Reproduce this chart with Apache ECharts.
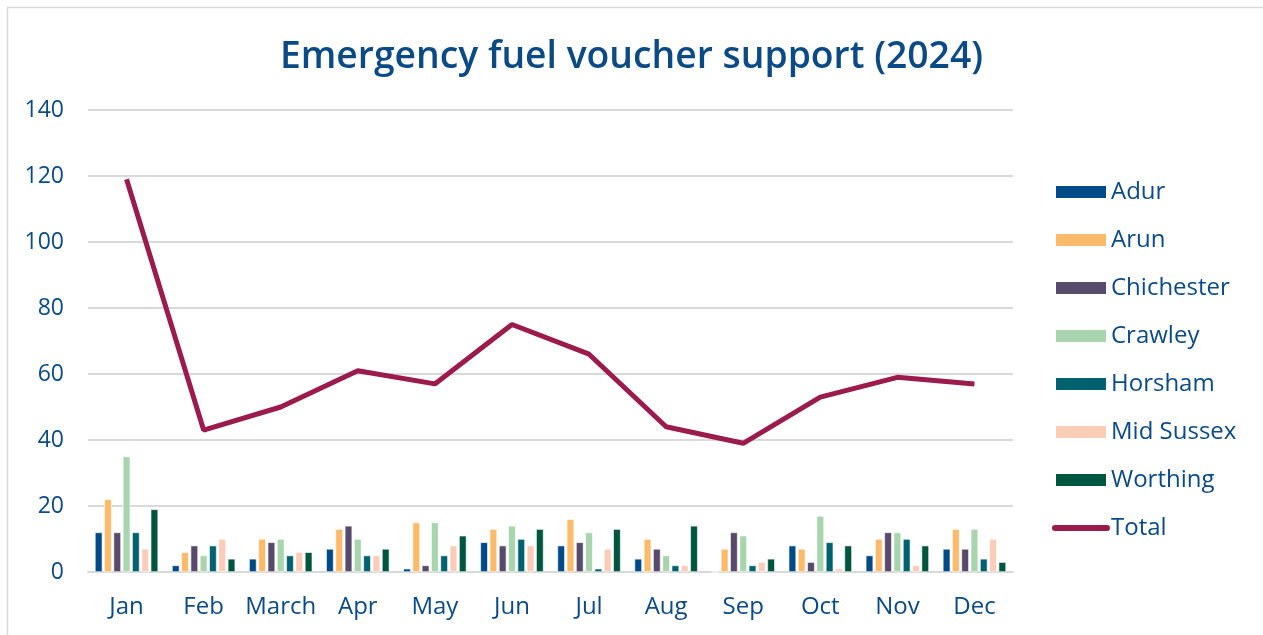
<!DOCTYPE html>
<html>
<head>
<meta charset="utf-8">
<script src="https://cdn.jsdelivr.net/npm/echarts@6/dist/echarts.min.js"></script>
<style>
  html, body { margin: 0; padding: 0; background: #ffffff; }
  #chart { width: 1263px; height: 635px; }
</style>
</head>
<body>
<div id="chart"></div>
<script>
// months on the x axis
var months = ['Jan', 'Feb', 'March', 'Apr', 'May', 'Jun', 'Jul', 'Aug', 'Sep', 'Oct', 'Nov', 'Dec'];

// vouchers per district
var adur       = [12, 2, 4, 7, 1, 9, 8, 4, 0, 8, 5, 7];
var arun       = [22, 6, 10, 13, 15, 13, 16, 10, 7, 7, 10, 13];
var chichester = [12, 8, 9, 14, 2, 8, 9, 7, 12, 3, 12, 7];
var crawley    = [35, 5, 10, 10, 15, 14, 12, 5, 11, 17, 12, 13];
var horsham    = [12, 8, 5, 5, 5, 10, 1, 2, 2, 9, 10, 4];
var midSussex  = [7, 10, 6, 5, 8, 8, 7, 2, 3, 1, 2, 10];
var worthing   = [19, 4, 6, 7, 11, 13, 13, 14, 4, 8, 8, 3];
var total      = [119, 43, 50, 61, 57, 75, 66, 44, 39, 53, 59, 57];

var textBlue = '#0b4a85';

var districts = [
  { name: 'Adur', data: adur, color: '#004a87' },
  { name: 'Arun', data: arun, color: '#fdbb6a' },
  { name: 'Chichester', data: chichester, color: '#574a6b' },
  { name: 'Crawley', data: crawley, color: '#a8d5ae' },
  { name: 'Horsham', data: horsham, color: '#00626f' },
  { name: 'Mid Sussex', data: midSussex, color: '#fbcdb8' },
  { name: 'Worthing', data: worthing, color: '#00553f' }
];

var series = districts.map(function (d) {
  return {
    name: d.name,
    type: 'bar',
    data: d.data,
    barGap: '25%',
    barCategoryGap: '18%',
    itemStyle: { color: d.color, borderColor: '#ffffff', borderWidth: 0.6 }
  };
});
series.push({
  name: 'Total',
  type: 'line',
  data: total,
  symbol: 'none',
  lineStyle: { color: '#9b1b4c', width: 5 },
  itemStyle: { color: '#9b1b4c' }
});

var chart = echarts.init(document.getElementById('chart'), null, { renderer: 'canvas' });
chart.setOption({
  backgroundColor: '#ffffff',
  animation: false,
  title: {
    text: 'Emergency fuel voucher support (2024)',
    left: 'center',
    top: 34,
    textStyle: {
      fontFamily: 'Open Sans',
      fontWeight: 600,
      fontSize: 37.3,
      color: textBlue
    }
  },
  legend: {
    orient: 'vertical',
    left: 1047,
    top: 175,
    itemWidth: 52,
    itemHeight: 14,
    itemGap: 24,
    textStyle: { fontFamily: 'Open Sans', fontSize: 24, color: textBlue, padding: [0, 0, 0, -1] },
    data: districts.map(function (d) { return { name: d.name, icon: 'rect' }; }).concat([{
      name: 'Total',
      itemStyle: { opacity: 0 },
      lineStyle: { width: 6, cap: 'round', color: '#9b1b4c' }
    }])
  },
  grid: { left: 88, right: 250, top: 110, bottom: 63, containLabel: false },
  xAxis: {
    type: 'category',
    data: months,
    axisLine: { lineStyle: { color: '#d9d9d9', width: 2 } },
    axisTick: { show: false },
    axisLabel: { interval: 0, fontFamily: 'Open Sans', fontSize: 24, color: textBlue, margin: 23 }
  },
  yAxis: {
    type: 'value',
    min: 0,
    max: 140,
    interval: 20,
    axisLine: { show: false },
    axisTick: { show: false },
    splitLine: { lineStyle: { color: '#d9d9d9', width: 2 } },
    axisLabel: { fontFamily: 'Open Sans', fontSize: 23, color: textBlue, margin: 24 }
  },
  series: series,
  graphic: [{
    type: 'rect',
    shape: { x: 7.5, y: 7.5, width: 1270, height: 640 },
    style: { fill: 'none', stroke: '#d9d9d9', lineWidth: 1.5 },
    silent: true
  }]
});
</script>
</body>
</html>
